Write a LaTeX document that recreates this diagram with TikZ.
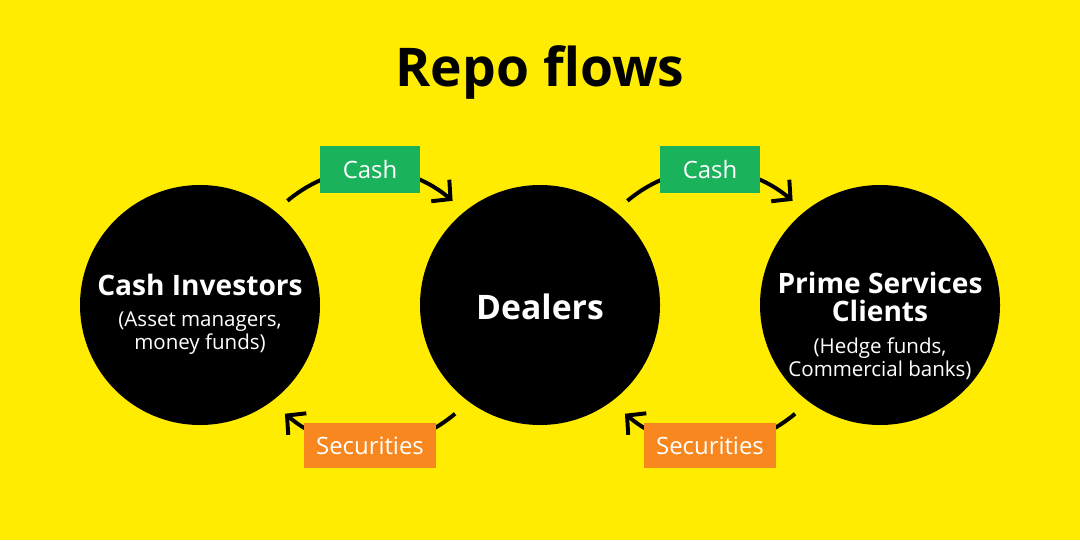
\documentclass[tikz,border=0pt]{standalone}
\usepackage{fontspec}
\setmainfont{Open Sans}
\usetikzlibrary{arrows.meta}
\definecolor{bgyellow}{RGB}{255,236,0}
\definecolor{cashgreen}{RGB}{27,178,92}
\definecolor{secorange}{RGB}{247,135,30}

\begin{document}
\begin{tikzpicture}[>={Straight Barb[length=9.5pt,width=20pt]},
    party/.style={circle, fill=black, minimum size=6cm, inner sep=0pt},
    who/.style={text=white, align=center, font=\fontsize{20}{20}\selectfont\bfseries},
    whonote/.style={text=white, align=center, font=\fontsize{14.6}{16.4}\selectfont},
    flow/.style={line width=2.8pt, ->},
    tag/.style={text=white, font=\fontsize{17}{17}\selectfont, inner sep=0pt},
    cashtag/.style={tag, fill=cashgreen, minimum width=2.48cm, minimum height=1.18cm},
    sectag/.style={tag, fill=secorange, minimum width=3.3cm, minimum height=1.13cm}]
  \fill[bgyellow] (0, 0) rectangle (27, 13.5);
  \useasboundingbox (0, 0) rectangle (27, 13.5);

  \node[font=\fontsize{38}{38}\selectfont\bfseries] (title) at (13.5, 11.7) {Repo flows};

  \node[party] (inv) at (5, 5.875) {};
  \node[party] (dealer) at (13.5, 5.875) {};
  \node[party] (prime) at (22, 5.875) {};

  \node[who] (invname) at (5, 6.375) {Cash Investors};
  \node[whonote] (invnote) at (5, 5.17) {(Asset managers,\\money funds)};
  \node[who, font=\fontsize{24}{24}\selectfont\bfseries] (dealername) at (13.5, 5.825) {Dealers};
  \node[who] (primename) at (22, 6.075) {Prime Services\\Clients};
  \node[whonote] (primenote) at (22, 4.54) {(Hedge funds,\\Commercial banks)};

  % cash goes right, securities come back left
  \draw[flow] ([shift={(50:3.4)}]inv.center) to[bend left=40] node[cashtag] (cash1) {Cash} ([shift={(130:3.4)}]dealer.center);
  \draw[flow] ([shift={(-128:3.45)}]dealer.center) to[bend left=40] node[sectag] (sec1) {Securities} ([shift={(-52:3.45)}]inv.center);
  \draw[flow] ([shift={(50:3.4)}]dealer.center) to[bend left=40] node[cashtag] (cash2) {Cash} ([shift={(130:3.4)}]prime.center);
  \draw[flow] ([shift={(-128:3.45)}]prime.center) to[bend left=40] node[sectag] (sec2) {Securities} ([shift={(-52:3.45)}]dealer.center);
\end{tikzpicture}
\end{document}
